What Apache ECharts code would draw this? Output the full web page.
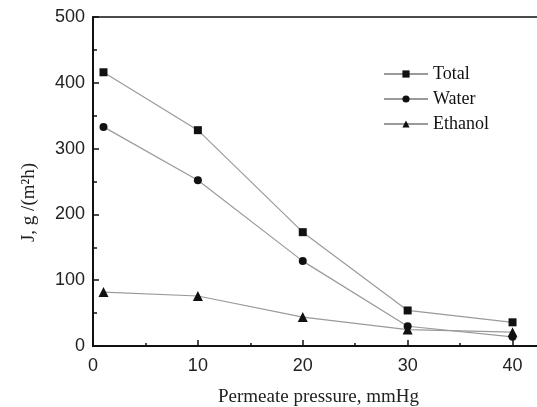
<!DOCTYPE html>
<html>
<head>
<meta charset="utf-8">
<script src="https://cdn.jsdelivr.net/npm/echarts@6/dist/echarts.min.js"></script>
<style>
  html, body { margin: 0; padding: 0; background: #fff; }
  #chart { width: 537px; height: 407px; }
</style>
</head>
<body>
<div id="chart"></div>
<script>
// permeate pressure, mmHg
const pressure = [1, 10, 20, 30, 40]
// flux, g/(m2 h)
const totalFlux = [416, 328, 173, 54, 36]
const waterFlux = [333, 252, 129, 30, 14]
const ethanolFlux = [82, 76, 44, 25, 21]

const seriesNames = ['Total', 'Water', 'Ethanol']
const seriesSymbols = ['rect', 'circle', 'triangle']
const seriesValues = [totalFlux, waterFlux, ethanolFlux]

const chart = echarts.init(document.getElementById('chart'), null, { renderer: 'canvas' })

const sansFont = 'Liberation Sans'
const serifFont = 'Liberation Serif'

const option = {
  animation: false,
  backgroundColor: '#fff',
  grid: {
    left: 93,
    top: 17,
    bottom: 61,
    width: 451,
    outerBoundsMode: 'none',
    show: true,
    borderColor: '#111',
    borderWidth: 1.5
  },
  legend: {
    orient: 'vertical',
    left: 378,
    top: 60,
    itemWidth: 44,
    itemHeight: 9,
    itemGap: 7,
    textStyle: { fontFamily: serifFont, fontSize: 18, color: '#111' },
    data: seriesNames
  },
  xAxis: {
    type: 'value',
    min: 0,
    max: 43,
    interval: 10,
    name: 'Permeate pressure, mmHg',
    nameLocation: 'middle',
    nameGap: 42,
    nameTextStyle: { fontFamily: serifFont, fontSize: 19, color: '#222' },
    axisLine: { lineStyle: { color: '#111', width: 2 } },
    axisTick: { inside: true, length: 6, lineStyle: { color: '#111', width: 1.5 } },
    minorTick: { show: true, splitNumber: 2, length: 3, lineStyle: { color: '#111', width: 1.5 } },
    axisLabel: { fontFamily: sansFont, fontSize: 18, color: '#222', margin: 11, showMaxLabel: false },
    splitLine: { show: false }
  },
  yAxis: {
    type: 'value',
    min: 0,
    max: 500,
    interval: 100,
    name: 'J, g /(m\u00b2h)',
    nameLocation: 'middle',
    nameGap: 54,
    nameTextStyle: { fontFamily: serifFont, fontSize: 19, color: '#222', padding: [0, 42, 0, 0] },
    axisLine: { lineStyle: { color: '#111', width: 2 } },
    axisTick: { inside: true, length: 6, lineStyle: { color: '#111', width: 1.5 } },
    minorTick: { show: true, splitNumber: 2, length: 4, lineStyle: { color: '#111', width: 1.5 } },
    axisLabel: { fontFamily: sansFont, fontSize: 18, color: '#222', margin: 8 },
    splitLine: { show: false }
  },
  series: seriesNames.map(function (name, i) {
    return {
      name: name,
      type: 'line',
      data: pressure.map(function (p, j) { return [p, seriesValues[i][j]] }),
      symbol: seriesSymbols[i],
      symbolSize: i === 2 ? 10 : 8,
      showAllSymbol: true,
      lineStyle: { color: '#9a9a9a', width: 1.2 },
      itemStyle: { color: '#111', borderWidth: 0 }
    }
  })
}

chart.setOption(option)
</script>
</body>
</html>
